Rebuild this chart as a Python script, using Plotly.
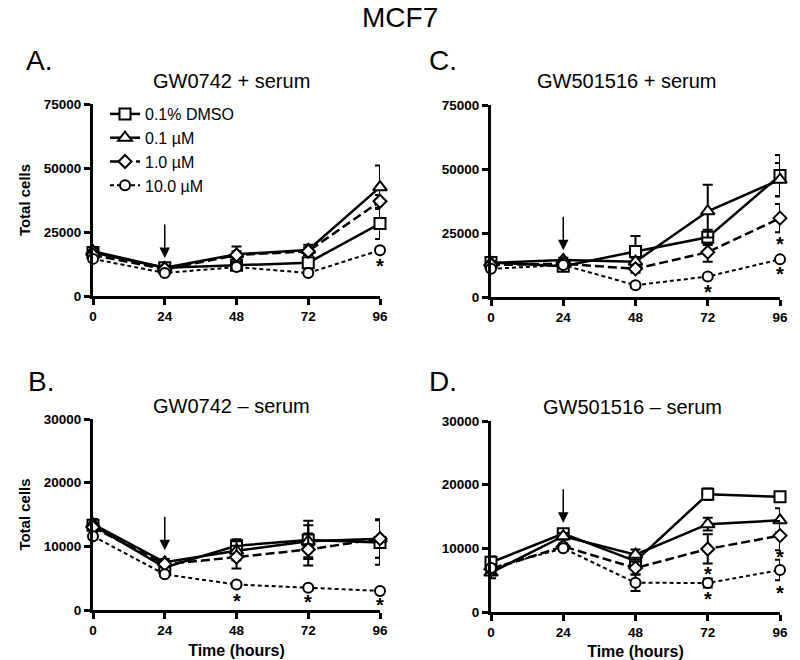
"""
MCF7 : nombre total de cellules en fonction du temps, pour GW0742 et
GW501516, avec et sans sérum. Quatre panneaux (A-D) façon GraphPad.
"""

import plotly.graph_objects as go
from plotly.subplots import make_subplots

W, H = 800, 660
FONT = "Arial, Liberation Sans, sans-serif"

# ─────────────────────────────────────────────────────────────────
# Données : moyenne et erreur, une ligne par dose
# ─────────────────────────────────────────────────────────────────
hours = [0, 24, 48, 72, 96]
doses = ["0.1% DMSO", "0.1 µM", "1.0 µM", "10.0 µM"]

# A. GW0742 + serum
a_mean = [
    [17000, 11000, 12000, 13000, 28300],
    [17500, 11000, 16300, 18000, 42500],
    [16000, 10500, 16000, 17500, 37000],
    [14500, 9000, 11300, 9000, 17900],
]
a_err = [
    [1500, 1000, 1000, 1500, 6000],
    [1000, 800, 3000, 2000, 8500],
    [1000, 800, 1500, 1500, 2500],
    [800, 500, 800, 500, 1000],
]
a_stars = [(96, 13300)]

# C. GW501516 + serum
c_mean = [
    [13500, 12000, 17800, 23300, 47500],
    [13300, 14500, 13800, 33500, 45800],
    [12500, 13000, 11000, 17500, 30800],
    [11000, 12500, 4600, 8000, 14700],
]
c_err = [
    [1000, 800, 6000, 3000, 8000],
    [800, 800, 1500, 10300, 6500],
    [800, 800, 1500, 3700, 5500],
    [800, 600, 1000, 800, 800],
]
c_stars = [(72, 3500), (96, 22300), (96, 10500)]

# B. GW0742 – serum
b_mean = [
    [13300, 6700, 10100, 11000, 10600],
    [13500, 7500, 9300, 10800, 11200],
    [13000, 7200, 8300, 9500, 11200],
    [11600, 5600, 4000, 3500, 3000],
]
b_err = [
    [800, 500, 1000, 3000, 3500],
    [800, 500, 1500, 2500, 3000],
    [700, 500, 1800, 2500, 3000],
    [500, 300, 300, 300, 300],
]
b_stars = [(48, 2000), (72, 1900), (96, 1400)]

# D. GW501516 – serum
d_mean = [
    [7800, 12300, 8000, 18500, 18100],
    [6200, 11900, 9000, 13800, 14400],
    [6700, 10300, 6900, 9900, 12000],
    [6900, 10000, 4600, 4550, 6600],
]
d_err = [
    [900, 500, 800, 900, 400],
    [900, 500, 800, 1000, 1900],
    [800, 500, 1000, 2300, 2300],
    [600, 400, 1300, 700, 1600],
]
d_stars = [(72, 6600), (72, 2700), (96, 9300), (96, 3600)]

# Pointe de la flèche (ajout du traitement à 24 h), en unités de l'axe y
arrow_tips = [14800, 18300, 9400, 14000]


# ─────────────────────────────────────────────────────────────────
# Mise en page
# ─────────────────────────────────────────────────────────────────
def px_x(px):
    return px / W


def px_y(py):
    return 1 - py / H


# (ligne, colonne, titre, lettre, domaine x en px, domaine y en px, ymax,
#  données, position du titre, position de la lettre)
panels = [
    (1, 1, "GW0742 + serum", "A.", (93, 380), (296, 104), 75000,
     a_mean, a_err, a_stars, (232, 81), (24, 60)),
    (1, 2, "GW501516 + serum", "C.", (491, 780), (297, 105), 75000,
     c_mean, c_err, c_stars, (627, 81), (427, 60)),
    (2, 1, "GW0742 – serum", "B.", (93, 380), (610, 419), 30000,
     b_mean, b_err, b_stars, (231, 406), (26, 381)),
    (2, 2, "GW501516 – serum", "D.", (491, 780), (612, 421), 30000,
     d_mean, d_err, d_stars, (632, 407), (427, 381)),
]

# style des séries : symbole, tirets, épaisseur, taille
styles = [
    ("square", "solid", 2.5, 11),
    ("triangle-up", "solid", 2.5, 12),
    ("diamond", "9px,4px", 2.5, 10),
    ("circle", "4px,3px", 2, 10),
]

fig = make_subplots(rows=2, cols=2)

annotations = []
for k, (row, col, title, letter, xd, yd, ymax, means, errs, stars,
        tpos, lpos) in enumerate(panels):
    for i, dose in enumerate(doses):
        symbol, dash, lw, size = styles[i]
        fig.add_trace(
            go.Scatter(
                x=hours, y=means[i],
                mode="lines+markers",
                name=dose,
                showlegend=(k == 0),
                cliponaxis=False,
                line=dict(color="black", width=lw, dash=dash),
                marker=dict(symbol=symbol, size=size, color="white",
                            line=dict(color="black", width=2)),
                error_y=dict(type="data", array=errs[i], visible=True,
                             color="black", thickness=2, width=5),
            ),
            row=row, col=col,
        )

    step = ymax // 3
    fig.update_xaxes(
        domain=[px_x(xd[0]), px_x(xd[1])], range=[0, 96],
        tickvals=hours, row=row, col=col,
    )
    fig.update_yaxes(
        domain=[px_y(yd[0]), px_y(yd[1])], range=[0, ymax],
        tickvals=[0, step, 2 * step, 3 * step], tickformat="d",
        row=row, col=col,
    )

    xref = "x" if k == 0 else f"x{k + 1}"
    yref = "y" if k == 0 else f"y{k + 1}"

    # astérisques de significativité
    for sx, sy in stars:
        annotations.append(dict(
            x=sx, y=sy, xref=xref, yref=yref, text="*", showarrow=False,
            font=dict(family=FONT, size=20, color="black", weight="bold"),
            xanchor="center", yanchor="middle", yshift=-4,
        ))

    # flèche à 24 h
    annotations.append(dict(
        x=24, y=arrow_tips[k], xref=xref, yref=yref, text="",
        showarrow=True, ax=0, ay=-35, arrowhead=2, arrowsize=1.4,
        arrowwidth=1.5, arrowcolor="black",
    ))

    # titre du panneau et lettre
    annotations.append(dict(
        x=px_x(tpos[0]), y=px_y(tpos[1]), xref="paper", yref="paper",
        text=title, showarrow=False, xanchor="center", yanchor="middle",
        font=dict(family=FONT, size=20, color="black"),
    ))
    annotations.append(dict(
        x=px_x(lpos[0]), y=px_y(lpos[1]), xref="paper", yref="paper",
        text=letter, showarrow=False, xanchor="left", yanchor="middle",
        font=dict(family=FONT, size=28, color="black"),
    ))

# titre général
annotations.append(dict(
    x=0.5, y=px_y(18), xref="paper", yref="paper", text="MCF7",
    showarrow=False, xanchor="center", yanchor="middle",
    font=dict(family=FONT, size=28, color="black"),
))

axis_style = dict(
    showgrid=False, zeroline=False, showline=True, linewidth=3,
    linecolor="black", ticks="outside", ticklen=6, tickwidth=2.5,
    tickcolor="black", automargin=False,
    tickfont=dict(family=FONT, size=13.5, color="black", weight="bold"),
)
fig.update_xaxes(**axis_style)
fig.update_yaxes(**axis_style)

title_font = dict(family=FONT, size=15, color="black", weight="bold")
fig.update_yaxes(title=dict(text="Total cells", font=title_font, standoff=10),
                 row=1, col=1)
fig.update_yaxes(title=dict(text="Total cells", font=title_font, standoff=10),
                 row=2, col=1)
time_font = dict(family=FONT, size=16, color="black", weight="bold")
fig.update_xaxes(title=dict(text="Time (hours)", font=time_font, standoff=8),
                 row=2, col=1)
fig.update_xaxes(title=dict(text="Time (hours)", font=time_font, standoff=8),
                 row=2, col=2)

fig.update_layout(
    width=W, height=H,
    margin=dict(l=0, r=0, t=0, b=0, autoexpand=False),
    paper_bgcolor="white", plot_bgcolor="white",
    font=dict(family=FONT, color="black"),
    annotations=annotations,
    legend=dict(
        x=px_x(105), y=px_y(97), xanchor="left", yanchor="top",
        font=dict(family=FONT, size=16, color="black"),
        bgcolor="rgba(0,0,0,0)", borderwidth=0,
        tracegroupgap=0,
    ),
)

# la page HTML par défaut a une marge de 8 px autour du graphique
fig.write_html(
    "out.html",
    config={"displayModeBar": False},
    post_script="document.body.style.margin='0px';"
                "document.body.style.overflow='hidden';",
)
